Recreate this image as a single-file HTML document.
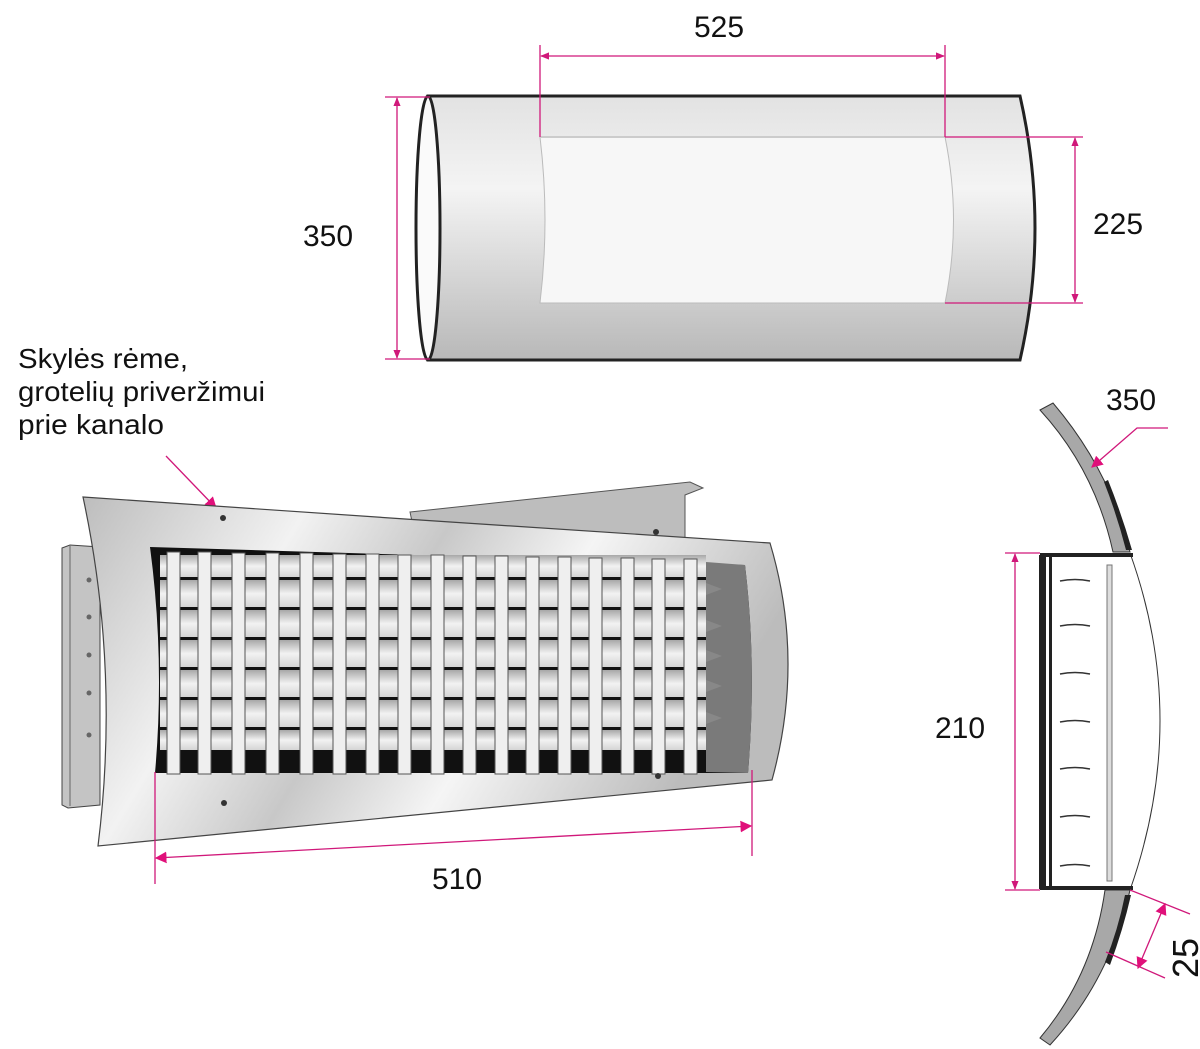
<!DOCTYPE html>
<html><head><style>html,body{margin:0;padding:0;background:#fff}svg{display:block}text{font-family:"Liberation Sans",sans-serif;fill:#111}</style></head>
<body>
<svg width="1200" height="1049" viewBox="0 0 1200 1049" xmlns="http://www.w3.org/2000/svg">
<defs>
<linearGradient id="cyl" x1="0" y1="0" x2="0" y2="1">
<stop offset="0" stop-color="#e2e2e2"/><stop offset="0.35" stop-color="#f4f4f4"/><stop offset="1" stop-color="#b8b8b8"/></linearGradient>
<linearGradient id="frm" x1="0" y1="0" x2="1" y2="0.3">
<stop offset="0" stop-color="#bdbdbd"/><stop offset="0.3" stop-color="#f2f2f2"/><stop offset="0.5" stop-color="#c8c8c8"/><stop offset="0.7" stop-color="#f5f5f5"/><stop offset="1" stop-color="#bcbcbc"/></linearGradient>
<linearGradient id="slot" x1="0" y1="0" x2="0" y2="1">
<stop offset="0" stop-color="#a8a8a8"/><stop offset="0.5" stop-color="#f2f2f2"/><stop offset="1" stop-color="#d4d4d4"/></linearGradient>
<marker id="ar" viewBox="0 0 10 10" refX="9" refY="5" markerWidth="7" markerHeight="7" orient="auto-start-reverse"><path d="M0,1 L10,5 L0,9z" fill="#d0187a"/></marker>
<marker id="ab" viewBox="0 0 10 10" refX="9" refY="5" markerWidth="9" markerHeight="9" orient="auto-start-reverse"><path d="M0,0 L10,5 L0,10z" fill="#e0107a"/></marker>
</defs>

<!-- TOP CYLINDER -->
<path d="M428,96 L1020,96 Q1050,228 1020,360 L428,360 Z" fill="url(#cyl)" stroke="#222" stroke-width="3"/>
<path d="M540,137 L945,137 Q962,220 945,303 L540,303 Q550,220 540,137Z" fill="#f7f7f7" stroke="#bbb" stroke-width="1"/>
<line x1="540" y1="137" x2="945" y2="137" stroke="#ccc" stroke-width="2"/>
<ellipse cx="428" cy="228" rx="12" ry="132" fill="#fafafa" stroke="#222" stroke-width="3"/>
<g stroke="#d0187a" stroke-width="1.3" fill="none">
<line x1="540" y1="45" x2="540" y2="137"/><line x1="945" y1="45" x2="945" y2="137"/>
<line x1="541" y1="56" x2="944" y2="56" marker-start="url(#ar)" marker-end="url(#ar)"/>
<line x1="385" y1="97" x2="430" y2="97"/><line x1="385" y1="359" x2="430" y2="359"/>
<line x1="397" y1="98" x2="397" y2="358" marker-start="url(#ar)" marker-end="url(#ar)"/>
<line x1="945" y1="137" x2="1083" y2="137"/><line x1="945" y1="303" x2="1083" y2="303"/>
<line x1="1075" y1="138" x2="1075" y2="302" marker-start="url(#ar)" marker-end="url(#ar)"/>
</g>
<text x="694" y="37" font-size="30">525</text>
<text x="303" y="246" font-size="30">350</text>
<text x="1093" y="234" font-size="30">225</text>

<!-- LABEL -->
<text x="18" y="368" font-size="28" textLength="170" lengthAdjust="spacingAndGlyphs">Skylės rėme,</text>
<text x="18" y="401" font-size="28" textLength="247" lengthAdjust="spacingAndGlyphs">grotelių priveržimui</text>
<text x="18" y="434" font-size="28" textLength="146" lengthAdjust="spacingAndGlyphs">prie kanalo</text>
<line x1="166" y1="456" x2="216" y2="508" stroke="#d0187a" stroke-width="1.3" marker-end="url(#ab)"/>

<!-- GRILLE -->
<path d="M62,548 L70,545 L100,547 L100,805 L68,808 L62,805Z" fill="#c4c4c4" stroke="#444" stroke-width="1"/>
<line x1="70" y1="546" x2="70" y2="806" stroke="#666"/>
<g fill="#666"><circle cx="89" cy="580" r="2.5"/><circle cx="89" cy="617" r="2.5"/><circle cx="89" cy="655" r="2.5"/><circle cx="89" cy="693" r="2.5"/><circle cx="89" cy="735" r="2.5"/></g>
<path d="M410,512 L690,482 L703,488 L685,495 L685,560 L420,560Z" fill="#bdbdbd" stroke="#555" stroke-width="1"/>
<path d="M83,497 L420,520 L770,543 Q805,660 772,780 L98,846 Q120,670 83,497Z" fill="url(#frm)" stroke="#444" stroke-width="1.2"/>
<path d="M150,547 L745,565 Q757,665 748,773 L155,773 Q165,660 150,547Z" fill="#111"/>
<path d="M706,562 L745,565 Q757,665 748,773 L706,772Z" fill="#7a7a7a"/>
<g>
<rect x="160" y="555" width="546" height="22" fill="url(#slot)"/>
<rect x="160" y="580" width="546" height="27" fill="url(#slot)"/>
<rect x="160" y="610" width="546" height="27" fill="url(#slot)"/>
<rect x="160" y="640" width="546" height="27" fill="url(#slot)"/>
<rect x="160" y="670" width="546" height="27" fill="url(#slot)"/>
<rect x="160" y="700" width="546" height="27" fill="url(#slot)"/>
<rect x="160" y="730" width="546" height="20" fill="url(#slot)"/>
</g>
<g fill="#efefef" stroke="#555" stroke-width="1">
<rect x="167" y="552" width="13" height="222"/><rect x="198" y="552" width="13" height="222"/><rect x="232" y="553" width="13" height="221"/><rect x="266" y="553" width="13" height="221"/><rect x="300" y="553" width="13" height="221"/><rect x="333" y="554" width="13" height="220"/><rect x="366" y="554" width="13" height="220"/><rect x="398" y="555" width="13" height="219"/><rect x="431" y="555" width="13" height="219"/><rect x="463" y="556" width="13" height="218"/><rect x="495" y="556" width="13" height="218"/><rect x="526" y="557" width="13" height="217"/><rect x="558" y="557" width="13" height="217"/><rect x="589" y="558" width="13" height="216"/><rect x="621" y="558" width="13" height="216"/><rect x="652" y="559" width="13" height="215"/><rect x="684" y="559" width="13" height="215"/>
</g>
<g fill="#888"><path d="M706,583 l16,6 l-16,6z"/><path d="M706,620 l16,6 l-16,6z"/><path d="M706,650 l16,6 l-16,6z"/><path d="M706,680 l16,6 l-16,6z"/><path d="M706,712 l16,6 l-16,6z"/></g>
<g fill="#333"><circle cx="223" cy="518" r="3"/><circle cx="656" cy="532" r="3"/><circle cx="224" cy="803" r="3"/><circle cx="658" cy="776" r="3"/></g>
<g stroke="#d0187a" stroke-width="1.3">
<line x1="155" y1="772" x2="155" y2="884"/><line x1="752" y1="770" x2="752" y2="856"/>
<line x1="156" y1="858" x2="751" y2="826" marker-start="url(#ab)" marker-end="url(#ab)"/>
</g>
<text x="432" y="889" font-size="30">510</text>

<!-- SIDE VIEW -->
<path d="M1040,410 L1053,403 Q1110,470 1130,552 L1113,552 Q1095,470 1040,410Z" fill="#a8a8a8" stroke="#333" stroke-width="1"/>
<path d="M1108,480 Q1122,515 1132,550 L1126,550 Q1117,515 1104,482Z" fill="#222"/>
<path d="M1105,890 L1130,890 Q1110,980 1050,1045 L1040,1038 Q1093,975 1105,890Z" fill="#a8a8a8" stroke="#333" stroke-width="1"/>
<path d="M1125,895 L1131,895 Q1123,930 1110,965 L1105,962 Q1118,930 1125,895Z" fill="#222"/>
<path d="M1130,553 Q1190,720 1130,890" fill="none" stroke="#333" stroke-width="1"/>
<rect x="1040" y="556" width="90" height="331" fill="#fff"/>
<line x1="1040" y1="555" x2="1133" y2="555" stroke="#222" stroke-width="4"/>
<line x1="1040" y1="888" x2="1133" y2="888" stroke="#222" stroke-width="4"/>
<rect x="1039" y="555" width="7" height="334" fill="#222"/>
<rect x="1049" y="555" width="3" height="334" fill="#222"/>
<rect x="1107" y="565" width="5" height="316" fill="#ddd" stroke="#777" stroke-width="1"/>
<g stroke="#333" stroke-width="1.5" fill="none">
<path d="M1060,581 Q1075,578 1090,581"/><path d="M1060,626 Q1075,623 1090,626"/><path d="M1060,674 Q1075,671 1090,674"/><path d="M1060,722 Q1075,719 1090,722"/><path d="M1060,769 Q1075,766 1090,769"/><path d="M1060,817 Q1075,814 1090,817"/><path d="M1060,866 Q1075,863 1090,866"/>
</g>
<g stroke="#d0187a" stroke-width="1.3" fill="none">
<line x1="1005" y1="553" x2="1040" y2="553"/><line x1="1005" y1="890" x2="1040" y2="890"/>
<line x1="1015" y1="554" x2="1015" y2="889" marker-start="url(#ar)" marker-end="url(#ar)"/>
<polyline points="1168,428 1137,428 1092,467" marker-end="url(#ab)"/>
<line x1="1130" y1="890" x2="1190" y2="914"/><line x1="1106" y1="952" x2="1165" y2="978"/>
<line x1="1165" y1="904" x2="1138" y2="968" marker-start="url(#ab)" marker-end="url(#ab)"/>
</g>
<text x="1106" y="410" font-size="30">350</text>
<text x="935" y="738" font-size="30">210</text>
<text transform="translate(1198,978) rotate(-90)" font-size="36">25</text>
</svg>
</body></html>
